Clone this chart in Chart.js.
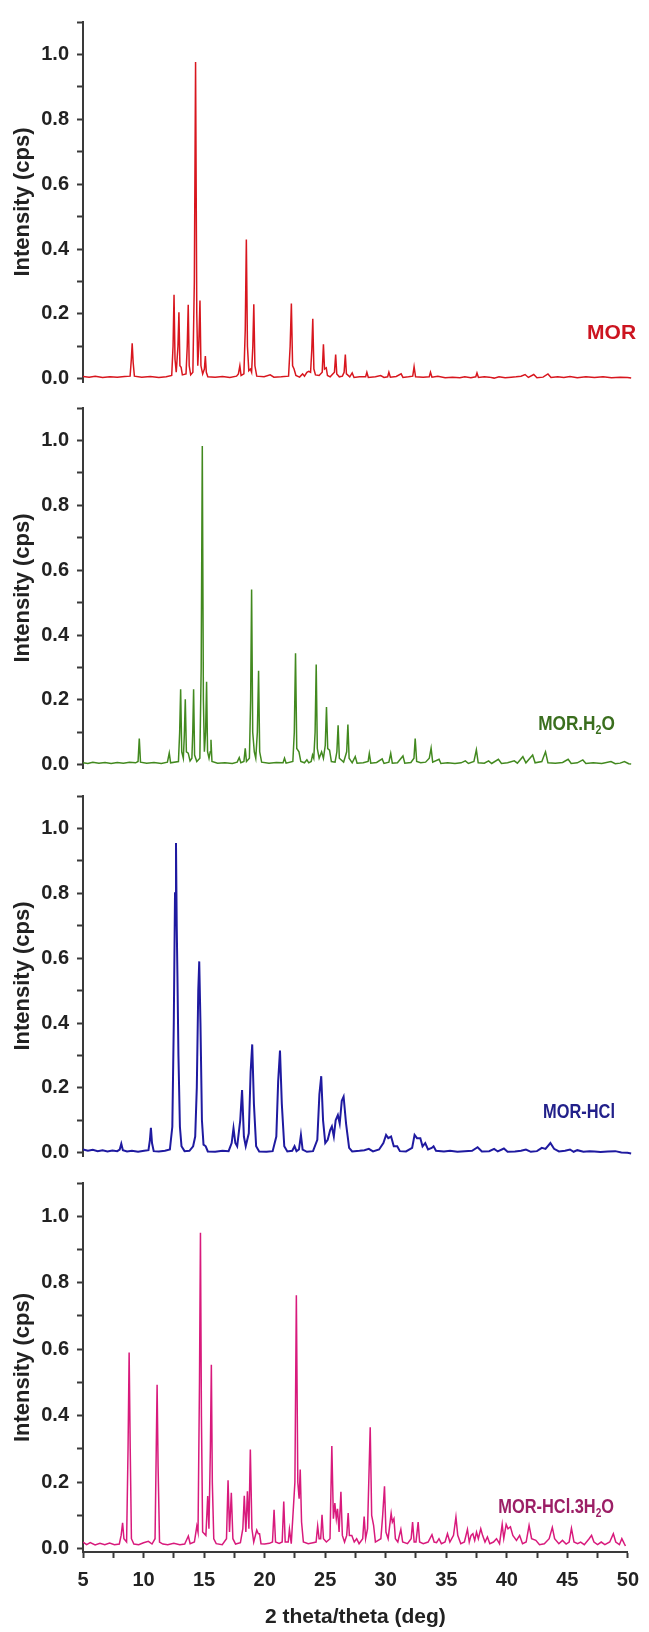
<!DOCTYPE html>
<html>
<head>
<meta charset="utf-8">
<script src="https://cdn.jsdelivr.net/npm/chart.js@4.4.1/dist/chart.umd.min.js"></script>
<style>
  body { margin: 0; background: #fff; width: 649px; height: 1632px; position: relative; overflow: hidden; }
  canvas { position: absolute; left: 0; }
</style>
</head>
<body>
<canvas id="p1" width="649" height="400" style="top:2px"></canvas>
<canvas id="p2" width="649" height="400" style="top:388px"></canvas>
<canvas id="p3" width="649" height="400" style="top:776px"></canvas>
<canvas id="p4" width="649" height="469" style="top:1163px"></canvas>
<script>
// tick values and labels
const yTickValues = [0, 0.1, 0.2, 0.3, 0.4, 0.5, 0.6, 0.7, 0.8, 0.9, 1.0, 1.1];
const yTickLabels = ['0.0', '', '0.2', '', '0.4', '', '0.6', '', '0.8', '', '1.0', ''];
const xTickValues = [5, 7.5, 10, 12.5, 15, 17.5, 20, 22.5, 25, 27.5, 30, 32.5, 35, 37.5, 40, 42.5, 45, 47.5, 50];
const xTickLabels = ['5', '', '10', '', '15', '', '20', '', '25', '', '30', '', '35', '', '40', '', '45', '', '50'];

// [2theta, intensity]
const morPattern = [
  [5.0, 0.007], [5.5, 0.005], [6.0, 0.008], [6.6, 0.004], [7.2, 0.006], [7.8, 0.005], [8.4, 0.007], [8.85, 0.008],
  [8.95, 0.06], [9.02, 0.109], [9.1, 0.05], [9.2, 0.008],
  [9.8, 0.005], [10.5, 0.007], [11.2, 0.004], [11.8, 0.006], [12.25, 0.01],
  [12.36, 0.1], [12.44, 0.259], [12.52, 0.06], [12.62, 0.02],
  [12.76, 0.1], [12.84, 0.205], [12.92, 0.04], [13.02, 0.035], [13.12, 0.012], [13.42, 0.015],
  [13.52, 0.1], [13.6, 0.228], [13.68, 0.04], [13.8, 0.012], [13.98, 0.02],
  [14.1, 0.3], [14.2, 0.977], [14.3, 0.2], [14.38, 0.04], [14.46, 0.1], [14.56, 0.241], [14.64, 0.04], [14.78, 0.015],
  [14.92, 0.03], [15.0, 0.07], [15.08, 0.02], [15.2, 0.006],
  [15.8, 0.005], [16.4, 0.007], [17.0, 0.004], [17.55, 0.008], [17.7, 0.015], [17.82, 0.04], [17.92, 0.01], [18.15, 0.015],
  [18.26, 0.15], [18.35, 0.429], [18.44, 0.1], [18.55, 0.025], [18.68, 0.03], [18.78, 0.02],
  [18.88, 0.1], [18.96, 0.23], [19.05, 0.04], [19.2, 0.008],
  [19.8, 0.006], [20.3, 0.012], [20.6, 0.005], [21.2, 0.006], [21.8, 0.008],
  [21.93, 0.1], [22.03, 0.232], [22.13, 0.04], [22.25, 0.03], [22.4, 0.01], [22.7, 0.005],
  [22.95, 0.015], [23.1, 0.008], [23.3, 0.02], [23.45, 0.023], [23.6, 0.02],
  [23.7, 0.09], [23.78, 0.185], [23.87, 0.03], [24.0, 0.012], [24.3, 0.01],
  [24.55, 0.02], [24.65, 0.106], [24.74, 0.03], [24.88, 0.034], [24.98, 0.01], [25.2, 0.006],
  [25.55, 0.02], [25.65, 0.075], [25.74, 0.015], [25.95, 0.006], [26.2, 0.008],
  [26.34, 0.02], [26.44, 0.075], [26.53, 0.015], [26.8, 0.006], [27.0, 0.018], [27.15, 0.004],
  [27.6, 0.006], [28.1, 0.006], [28.2, 0.02], [28.32, 0.004], [28.9, 0.006], [29.33, 0.01], [29.6, 0.004],
  [29.9, 0.006], [30.0, 0.02], [30.12, 0.005], [30.6, 0.007], [31.0, 0.015], [31.15, 0.004], [31.6, 0.006],
  [31.95, 0.008], [32.06, 0.037], [32.18, 0.006], [32.8, 0.005], [33.3, 0.006], [33.4, 0.02], [33.52, 0.005],
  [34.0, 0.008], [34.6, 0.003], [35.2, 0.005], [35.8, 0.003], [36.2, 0.006], [36.7, 0.003], [37.1, 0.006],
  [37.2, 0.018], [37.32, 0.004], [37.8, 0.006], [38.2, 0.005], [38.6, 0.002], [39.0, 0.006], [39.5, 0.003],
  [40.0, 0.005], [40.4, 0.006], [40.8, 0.008], [41.13, 0.013], [41.4, 0.004], [41.84, 0.013], [42.1, 0.003],
  [42.6, 0.005], [43.0, 0.015], [43.25, 0.004], [43.8, 0.006], [44.3, 0.004], [44.8, 0.007], [45.4, 0.003],
  [46.1, 0.006], [46.8, 0.004], [47.5, 0.006], [48.2, 0.003], [48.9, 0.005], [49.5, 0.004], [49.8, 0.002]
];

const morH2oPattern = [
  [5.0, 0.006], [5.4, 0.004], [5.8, 0.008], [6.3, 0.005], [6.8, 0.007], [7.3, 0.004], [7.8, 0.007], [8.3, 0.005], [8.8, 0.008], [9.3, 0.006],
  [9.5, 0.01], [9.6, 0.081], [9.7, 0.008], [10.2, 0.005], [10.8, 0.007], [11.4, 0.004], [11.9, 0.008],
  [12.05, 0.036], [12.16, 0.006], [12.8, 0.01],
  [12.9, 0.1], [12.98, 0.233], [13.07, 0.04], [13.2, 0.02], [13.28, 0.09], [13.36, 0.202], [13.45, 0.04], [13.6, 0.036], [13.75, 0.012], [13.9, 0.02],
  [13.97, 0.1], [14.04, 0.233], [14.12, 0.03], [14.3, 0.01], [14.55, 0.02],
  [14.66, 0.3], [14.75, 0.983], [14.84, 0.2], [14.92, 0.04], [15.02, 0.1], [15.1, 0.256], [15.18, 0.04], [15.3, 0.02],
  [15.4, 0.04], [15.46, 0.077], [15.54, 0.01], [16.0, 0.005], [16.6, 0.006], [17.2, 0.004], [17.6, 0.008],
  [17.77, 0.022], [17.9, 0.006], [18.15, 0.01], [18.26, 0.051], [18.36, 0.01], [18.6, 0.02],
  [18.7, 0.2], [18.78, 0.54], [18.87, 0.1], [19.0, 0.04], [19.12, 0.02], [19.25, 0.1], [19.35, 0.29], [19.44, 0.04], [19.6, 0.008],
  [20.2, 0.005], [20.8, 0.007], [21.35, 0.006], [21.47, 0.02], [21.6, 0.005], [22.15, 0.01],
  [22.27, 0.1], [22.37, 0.344], [22.47, 0.05], [22.65, 0.04], [22.8, 0.01], [23.1, 0.006], [23.3, 0.015], [23.45, 0.006],
  [23.65, 0.01], [23.76, 0.03], [23.86, 0.02], [23.97, 0.1], [24.06, 0.309], [24.15, 0.05], [24.3, 0.02],
  [24.5, 0.04], [24.65, 0.02], [24.8, 0.06], [24.9, 0.178], [25.0, 0.05], [25.15, 0.045], [25.3, 0.01],
  [25.6, 0.008], [25.75, 0.04], [25.85, 0.122], [25.95, 0.02], [26.3, 0.008], [26.55, 0.04], [26.65, 0.124], [26.75, 0.02],
  [27.0, 0.006], [27.25, 0.025], [27.4, 0.005], [27.9, 0.006], [28.3, 0.01], [28.4, 0.035], [28.52, 0.005],
  [29.0, 0.007], [29.45, 0.018], [29.6, 0.004], [30.0, 0.008], [30.15, 0.035], [30.28, 0.005], [30.7, 0.006],
  [31.15, 0.027], [31.3, 0.005], [31.8, 0.007], [32.05, 0.02], [32.15, 0.081], [32.27, 0.01], [32.6, 0.006],
  [33.0, 0.008], [33.3, 0.02], [33.45, 0.051], [33.58, 0.008], [34.1, 0.017], [34.25, 0.004], [34.8, 0.006],
  [35.4, 0.004], [35.9, 0.006], [36.25, 0.012], [36.5, 0.004], [36.95, 0.01], [37.15, 0.046], [37.3, 0.006],
  [37.8, 0.005], [38.15, 0.012], [38.4, 0.004], [38.95, 0.017], [39.2, 0.004], [39.7, 0.006], [40.25, 0.012],
  [40.5, 0.005], [40.95, 0.025], [41.2, 0.006], [41.75, 0.03], [41.95, 0.006], [42.5, 0.01], [42.8, 0.04],
  [43.0, 0.006], [43.6, 0.005], [44.2, 0.007], [44.65, 0.017], [44.9, 0.004], [45.4, 0.006], [45.85, 0.015],
  [46.1, 0.004], [46.7, 0.006], [47.4, 0.004], [48.15, 0.01], [48.5, 0.003], [48.9, 0.005], [49.25, 0.01], [49.6, 0.003], [49.8, 0.002]
];

const morHclPattern = [
  [5.0, 0.01], [5.4, 0.006], [5.8, 0.009], [6.2, 0.005], [6.6, 0.008], [7.0, 0.004], [7.4, 0.007], [7.8, 0.005],
  [8.0, 0.01], [8.13, 0.028], [8.26, 0.008], [8.6, 0.004], [9.0, 0.006], [9.5, 0.003], [10.0, 0.006], [10.35, 0.008],
  [10.47, 0.04], [10.55, 0.077], [10.64, 0.03], [10.78, 0.005], [11.2, 0.004], [11.7, 0.006], [12.1, 0.01],
  [12.3, 0.08], [12.42, 0.4], [12.52, 0.8], [12.6, 0.955], [12.66, 0.7], [12.72, 0.54], [12.8, 0.3], [12.92, 0.08], [13.05, 0.02], [13.3, 0.005],
  [13.7, 0.006], [14.0, 0.02], [14.17, 0.05], [14.3, 0.2], [14.42, 0.5], [14.5, 0.59], [14.6, 0.4], [14.72, 0.1], [14.85, 0.025], [15.03, 0.02], [15.2, 0.004],
  [15.8, 0.003], [16.4, 0.006], [16.9, 0.005], [17.15, 0.03], [17.3, 0.076], [17.45, 0.03], [17.6, 0.02], [17.85, 0.1], [18.0, 0.193], [18.15, 0.05], [18.3, 0.02],
  [18.55, 0.06], [18.7, 0.25], [18.83, 0.334], [18.97, 0.15], [19.15, 0.02], [19.4, 0.004], [20.0, 0.003], [20.5, 0.005], [20.8, 0.05],
  [20.95, 0.22], [21.1, 0.315], [21.25, 0.15], [21.45, 0.02], [21.7, 0.004], [22.1, 0.006], [22.29, 0.02], [22.45, 0.005], [22.65, 0.01],
  [22.81, 0.055], [22.95, 0.01], [23.3, 0.003], [23.8, 0.005], [24.15, 0.04], [24.32, 0.18], [24.47, 0.236], [24.62, 0.1], [24.8, 0.03],
  [25.0, 0.04], [25.2, 0.07], [25.34, 0.081], [25.5, 0.05], [25.65, 0.1], [25.83, 0.116], [25.98, 0.09], [26.15, 0.16], [26.3, 0.173],
  [26.5, 0.09], [26.75, 0.015], [27.0, 0.004], [27.6, 0.006], [28.0, 0.008], [28.36, 0.012], [28.7, 0.004], [29.2, 0.01], [29.55, 0.03],
  [29.77, 0.055], [29.95, 0.045], [30.18, 0.05], [30.4, 0.02], [30.68, 0.02], [30.9, 0.005], [31.4, 0.004], [31.9, 0.015], [32.1, 0.055],
  [32.3, 0.045], [32.57, 0.045], [32.75, 0.02], [32.97, 0.03], [33.2, 0.01], [33.5, 0.015], [33.65, 0.02], [33.85, 0.006], [34.5, 0.004],
  [35.0, 0.006], [35.6, 0.003], [36.2, 0.005], [36.8, 0.006], [37.25, 0.017], [37.6, 0.004], [38.2, 0.005], [38.6, 0.012], [38.9, 0.004],
  [39.4, 0.013], [39.7, 0.003], [40.3, 0.004], [40.8, 0.006], [41.2, 0.01], [41.6, 0.003], [42.1, 0.005], [42.5, 0.015], [42.8, 0.012],
  [43.2, 0.03], [43.5, 0.012], [43.9, 0.004], [44.4, 0.006], [44.8, 0.01], [45.1, 0.003], [45.4, 0.008], [45.9, 0.003], [46.4, 0.005],
  [46.8, 0.004], [47.3, 0.002], [47.9, 0.004], [48.5, 0.005], [49.0, 0.001], [49.5, 0.0], [49.8, -0.002]
];

const morHcl3h2oPattern = [
  [5.0, 0.02], [5.3, 0.012], [5.6, 0.018], [6.0, 0.011], [6.4, 0.016], [6.8, 0.012], [7.2, 0.017], [7.6, 0.012], [8.0, 0.014],
  [8.15, 0.04], [8.27, 0.078], [8.38, 0.03], [8.6, 0.02], [8.72, 0.3], [8.81, 0.59], [8.9, 0.3], [9.0, 0.03], [9.2, 0.014],
  [9.6, 0.012], [10.0, 0.018], [10.4, 0.022], [10.7, 0.014], [10.95, 0.03], [11.05, 0.3], [11.12, 0.493], [11.2, 0.25], [11.32, 0.02], [11.6, 0.014],
  [12.0, 0.012], [12.5, 0.016], [13.0, 0.012], [13.4, 0.014], [13.7, 0.038], [13.85, 0.015], [14.2, 0.02], [14.4, 0.068], [14.5, 0.05],
  [14.62, 0.5], [14.7, 0.95], [14.78, 0.4], [14.88, 0.05], [15.15, 0.04], [15.3, 0.158], [15.4, 0.06], [15.52, 0.3], [15.6, 0.553],
  [15.68, 0.2], [15.8, 0.03], [16.0, 0.015], [16.5, 0.012], [16.85, 0.03], [16.98, 0.206], [17.1, 0.05], [17.25, 0.168], [17.38, 0.03],
  [17.6, 0.014], [18.0, 0.018], [18.2, 0.06], [18.32, 0.159], [18.45, 0.05], [18.58, 0.173], [18.7, 0.06], [18.82, 0.298], [18.95, 0.06],
  [19.1, 0.02], [19.35, 0.056], [19.48, 0.045], [19.58, 0.045], [19.7, 0.015], [20.0, 0.014], [20.4, 0.016], [20.65, 0.02], [20.78, 0.117],
  [20.9, 0.02], [21.2, 0.016], [21.45, 0.02], [21.58, 0.142], [21.7, 0.02], [21.95, 0.02], [22.05, 0.058], [22.2, 0.015],
  [22.5, 0.2], [22.62, 0.762], [22.74, 0.2], [22.85, 0.15], [22.94, 0.238], [23.05, 0.08], [23.2, 0.02], [23.6, 0.015], [24.0, 0.018],
  [24.25, 0.02], [24.38, 0.068], [24.5, 0.03], [24.63, 0.03], [24.74, 0.102], [24.86, 0.03], [25.1, 0.02], [25.4, 0.03],
  [25.55, 0.309], [25.68, 0.09], [25.8, 0.137], [25.92, 0.09], [26.02, 0.12], [26.15, 0.05], [26.3, 0.171], [26.42, 0.04], [26.6, 0.02],
  [26.78, 0.04], [26.9, 0.107], [27.0, 0.04], [27.2, 0.04], [27.4, 0.02], [27.6, 0.03], [27.8, 0.015], [28.1, 0.03], [28.22, 0.097],
  [28.34, 0.03], [28.5, 0.06], [28.6, 0.2], [28.72, 0.365], [28.84, 0.1], [29.0, 0.07], [29.15, 0.02], [29.6, 0.03], [29.75, 0.1],
  [29.9, 0.188], [30.02, 0.05], [30.2, 0.03], [30.45, 0.106], [30.55, 0.08], [30.68, 0.09], [30.8, 0.03], [31.0, 0.02], [31.25, 0.058],
  [31.4, 0.02], [31.8, 0.015], [32.1, 0.03], [32.22, 0.08], [32.35, 0.02], [32.5, 0.02], [32.68, 0.08], [32.8, 0.02], [33.1, 0.015],
  [33.5, 0.02], [33.82, 0.042], [34.0, 0.02], [34.2, 0.018], [34.4, 0.03], [34.6, 0.015], [34.9, 0.02], [35.1, 0.045], [35.3, 0.02],
  [35.6, 0.04], [35.8, 0.095], [35.95, 0.04], [36.2, 0.015], [36.5, 0.02], [36.75, 0.058], [36.9, 0.02], [37.05, 0.04], [37.2, 0.045],
  [37.35, 0.025], [37.5, 0.05], [37.65, 0.03], [37.85, 0.06], [38.0, 0.04], [38.2, 0.02], [38.4, 0.035], [38.6, 0.015], [38.9, 0.02],
  [39.15, 0.03], [39.4, 0.015], [39.62, 0.073], [39.75, 0.03], [39.95, 0.073], [40.1, 0.06], [40.3, 0.066], [40.5, 0.04], [40.8, 0.025],
  [41.06, 0.04], [41.3, 0.015], [41.6, 0.02], [41.84, 0.07], [42.05, 0.03], [42.4, 0.025], [42.7, 0.012], [43.1, 0.015], [43.5, 0.03],
  [43.76, 0.064], [43.95, 0.03], [44.3, 0.015], [44.6, 0.025], [44.9, 0.014], [45.15, 0.02], [45.34, 0.061], [45.55, 0.02], [45.85, 0.015],
  [46.1, 0.02], [46.4, 0.012], [46.8, 0.03], [47.0, 0.04], [47.2, 0.02], [47.5, 0.012], [47.8, 0.02], [48.1, 0.012], [48.5, 0.02],
  [48.8, 0.045], [49.0, 0.02], [49.3, 0.012], [49.5, 0.03], [49.7, 0.015], [49.8, 0.008]
];

const sans = "'Liberation Sans', Arial, sans-serif";
const axisColor = '#3a3a3a';

// draws the sample name inside each panel, with subscripts
const sampleLabel = {
  id: 'sampleLabel',
  afterDraw(chart, args, opts) {
    const { ctx, scales } = chart;
    const x0 = scales.x.getPixelForValue(opts.at[0]);
    const y = scales.y.getPixelForValue(opts.at[1]);
    ctx.save();
    ctx.translate(x0, y);
    ctx.scale(opts.squeeze, 1);
    ctx.fillStyle = opts.color;
    ctx.textBaseline = 'middle';
    ctx.textAlign = 'left';
    let x = 0;
    opts.parts.forEach(([text, sub]) => {
      ctx.font = sub ? 'bold 13px ' + sans : 'bold 21px ' + sans;
      ctx.fillText(text, x, sub ? 6 : 0);
      x += ctx.measureText(text).width;
    });
    ctx.restore();
  }
};

function makePanel(id, points, color, lineWidth, label, showX) {
  return new Chart(document.getElementById(id), {
    type: 'line',
    data: {
      datasets: [{
        data: points.map(p => ({ x: p[0], y: p[1] })),
        borderColor: color,
        borderWidth: lineWidth,
        pointRadius: 0,
        tension: 0,
        fill: false
      }]
    },
    options: {
      responsive: false,
      animation: false,
      devicePixelRatio: 1,
      layout: { padding: { top: 14, right: 15.4, bottom: showX ? 0 : 11, left: 0 } },
      plugins: {
        legend: { display: false },
        tooltip: { enabled: false },
        sampleLabel: label
      },
      scales: {
        x: {
          type: 'linear',
          min: 5,
          max: 50,
          display: showX,
          afterBuildTicks: s => { s.ticks = xTickValues.map(v => ({ value: v })); },
          afterFit: s => { if (showX) s.height = 80; },
          border: { display: true, color: axisColor, width: 2 },
          grid: { drawOnChartArea: false, drawTicks: true, tickLength: 6, tickWidth: 2, tickColor: axisColor },
          ticks: {
            autoSkip: false,
            maxRotation: 0,
            padding: 10,
            color: '#222',
            font: { family: sans, size: 20, weight: 'bold' },
            callback: (v, i) => xTickLabels[i]
          },
          title: {
            display: true,
            text: '2 theta/theta (deg)',
            color: '#222',
            font: { family: sans, size: 21, weight: 'bold' },
            padding: { top: 0, bottom: 2 }
          }
        },
        y: {
          min: -0.01,
          max: 1.1,
          afterBuildTicks: s => { s.ticks = yTickValues.map(v => ({ value: v })); },
          afterFit: s => { s.width = 83; },
          border: { display: true, color: axisColor, width: 2 },
          grid: { drawOnChartArea: false, drawTicks: true, tickLength: 6, tickWidth: 2, tickColor: axisColor },
          ticks: {
            autoSkip: false,
            padding: 8,
            color: '#222',
            font: { family: sans, size: 20, weight: 'bold' },
            callback: (v, i) => yTickLabels[i]
          },
          title: {
            display: true,
            text: 'Intensity (cps)',
            color: '#222',
            font: { family: sans, size: 22, weight: 'bold' },
            padding: { top: 10, bottom: 0 }
          }
        }
      }
    },
    plugins: [sampleLabel]
  });
}

makePanel('p1', morPattern, '#d8161e', 1.5,
  { at: [46.2, 0.14], squeeze: 1, color: '#cc1420', parts: [['MOR', false]] }, false);
makePanel('p2', morH2oPattern, '#42891f', 1.5,
  { at: [42.2, 0.125], squeeze: 0.82, color: '#3a6e1e', parts: [['MOR.H', false], ['2', true], ['O', false]] }, false);
makePanel('p3', morHclPattern, '#1f1aa0', 2,
  { at: [42.6, 0.125], squeeze: 0.78, color: '#22208a', parts: [['MOR-HCl', false]] }, false);
makePanel('p4', morHcl3h2oPattern, '#d81a7c', 1.5,
  { at: [39.3, 0.125], squeeze: 0.78, color: '#9c1f66', parts: [['MOR-HCl.3H', false], ['2', true], ['O', false]] }, true);
</script>
</body>
</html>
